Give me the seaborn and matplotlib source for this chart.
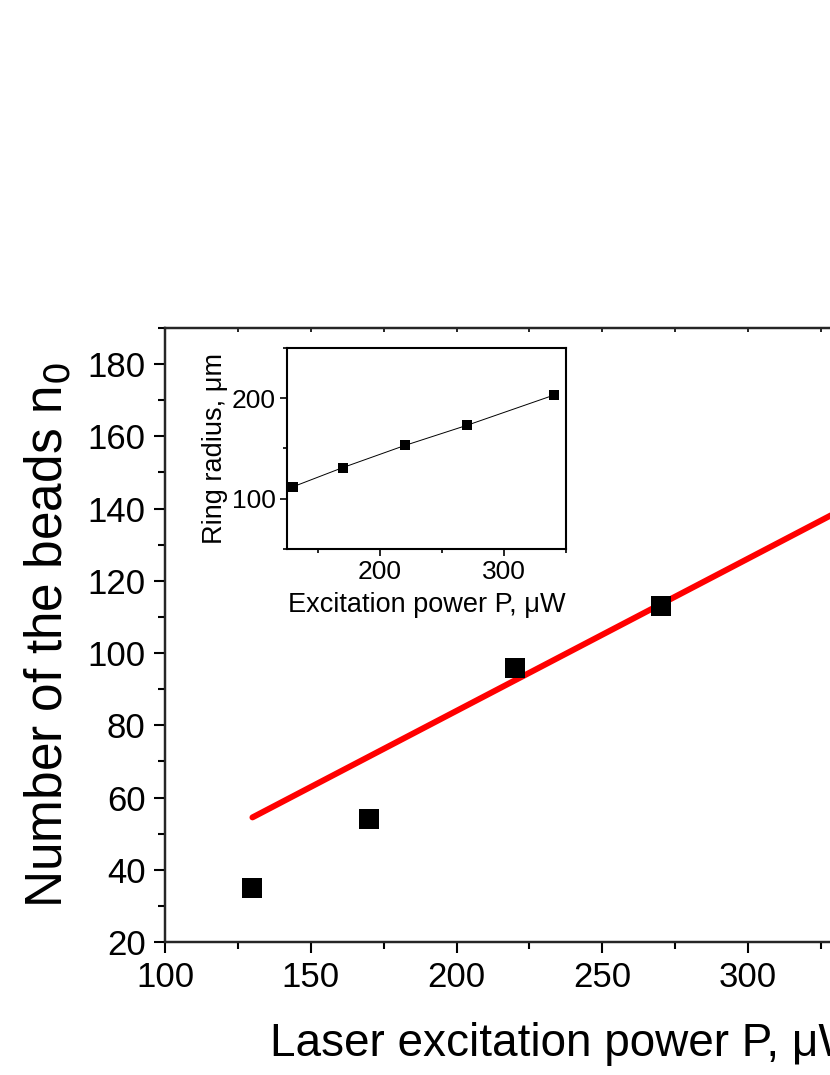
import numpy as np
import pandas as pd
import matplotlib
matplotlib.use("Agg")
import matplotlib.pyplot as plt
import seaborn as sns
from matplotlib.ticker import MultipleLocator, NullFormatter

# main panel: number of beads vs power
power = [130, 170, 220, 270]
beads = [35, 54, 96, 113]
# red line (model)
line_power = [130, 340]
line_beads = [54.5, 143]

# inset: ring radius vs power
inset_power = [130, 170, 220, 270, 340]
inset_radius = [112, 131, 153, 173, 203]

sns.set_style("ticks")
plt.rcParams['font.family'] = ['Liberation Sans', 'DejaVu Sans']
plt.rcParams['text.color'] = 'black'
plt.rcParams['axes.labelcolor'] = 'black'
plt.rcParams['xtick.color'] = 'black'
plt.rcParams['ytick.color'] = 'black'

fig = plt.figure(figsize=(8.3, 10.75), dpi=100)
ax = fig.add_axes([0.1988, 0.1237, 0.9658, 0.5712])

sns.lineplot(x=line_power, y=line_beads, color='#ff0000', lw=4.3, ax=ax)
sns.scatterplot(x=power, y=beads, marker='s', s=210, color='black',
                edgecolor='black', linewidth=0, ax=ax, zorder=3)

ax.set_xlim(100, 375)
ax.set_ylim(20, 190)
ax.xaxis.set_major_locator(MultipleLocator(50))
ax.xaxis.set_minor_locator(MultipleLocator(25))
ax.yaxis.set_major_locator(MultipleLocator(20))
ax.yaxis.set_minor_locator(MultipleLocator(10))
ax.tick_params(which='major', direction='out', length=8, width=1.5,
               labelsize=25, pad=6)
ax.tick_params(which='minor', direction='out', length=5, width=1.5)
for sp in ax.spines.values():
    sp.set_linewidth(1.6)
    sp.set_color('black')

# small inward ticks on the top spine
top = ax.twiny()
top.set_xlim(ax.get_xlim())
top.xaxis.set_major_locator(MultipleLocator(50))
top.xaxis.set_minor_locator(MultipleLocator(25))
top.xaxis.set_major_formatter(NullFormatter())
top.tick_params(axis='x', which='both', direction='in', length=3, width=1.2,
                top=True, bottom=False)
top.tick_params(axis='y', left=False, right=False, labelleft=False)
for sp in top.spines.values():
    sp.set_linewidth(1.6)

ax.set_xlabel("Laser excitation power P, \u03bcW", fontsize=33, labelpad=20)
ax.set_ylabel("Number of the beads n$_0$", fontsize=37, labelpad=10)

# inset
ins = fig.add_axes([0.3458, 0.4893, 0.3361, 0.187])
sns.lineplot(x=inset_power, y=inset_radius, color='black', lw=0.7, ax=ins)
sns.scatterplot(x=inset_power, y=inset_radius, marker='s', s=55, color='black',
                linewidth=0, ax=ins, zorder=3)
ins.set_xlim(125, 350)
ins.set_ylim(50, 250)
ins.xaxis.set_major_locator(MultipleLocator(100))
ins.xaxis.set_minor_locator(MultipleLocator(50))
ins.yaxis.set_major_locator(MultipleLocator(100))
ins.yaxis.set_minor_locator(MultipleLocator(50))
ins.tick_params(which='major', direction='out', length=5, width=1.2,
                labelsize=19, pad=3)
ins.tick_params(which='minor', direction='out', length=3, width=1.2)
for sp in ins.spines.values():
    sp.set_linewidth(1.5)
    sp.set_color('black')
ins.set_xlabel("Excitation power P, \u03bcW", fontsize=19.5, labelpad=6)
ins.set_ylabel("Ring radius, \u03bcm", fontsize=19.5, labelpad=3)

fig.savefig("out.png", dpi=100)
